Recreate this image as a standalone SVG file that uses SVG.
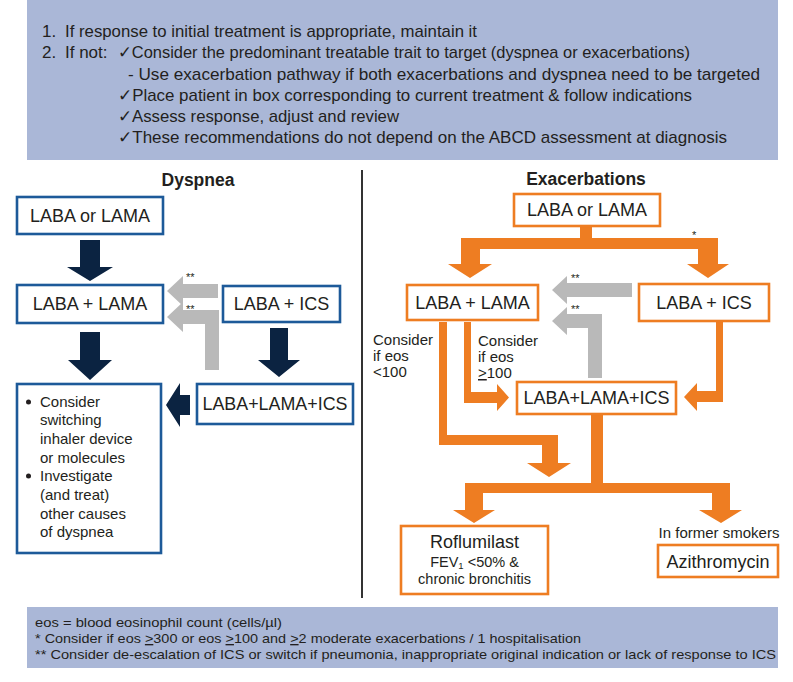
<svg xmlns="http://www.w3.org/2000/svg" width="793" height="682" viewBox="0 0 793 682">
<style>
text{font-family:"Liberation Sans","DejaVu Sans",Arial,sans-serif;fill:#231f20}
.hdr{font-size:17px}
.ttl{font-size:17.5px;font-weight:bold;text-anchor:middle}
.nt{font-size:18px;text-anchor:middle}
.sm{font-size:15px}
.xs{font-size:14.5px;text-anchor:middle}
.ft{font-size:13.5px}
.st{font-size:11px}
.bx{fill:#ffffff;stroke-width:2.6}
.blue{stroke:#1d5a99}
.orng{stroke:#ee7d22}
.panel{fill:#aab7d7}
.dk{fill:#0b2341}
.gr{fill:#b9b9b9}
.or{fill:#ee7d22}
</style>
<rect class="panel" x="27" y="0" width="751" height="160"/>
<g id="instructions">
<text class="hdr" x="42" y="37">1.</text>
<text class="hdr" x="65" y="37" textLength="412" lengthAdjust="spacingAndGlyphs">If response to initial treatment is appropriate, maintain it</text>
<text class="hdr" x="42" y="58">2.</text>
<text class="hdr" x="65" y="58">If not:</text>
<text class="hdr" x="118" y="58" textLength="572" lengthAdjust="spacingAndGlyphs">✓Consider the predominant treatable trait to target (dyspnea or exacerbations)</text>
<text class="hdr" x="128" y="80" textLength="632" lengthAdjust="spacingAndGlyphs">- Use exacerbation pathway if both exacerbations and dyspnea need to be targeted</text>
<text class="hdr" x="118" y="101" textLength="574" lengthAdjust="spacingAndGlyphs">✓Place patient in box corresponding to current treatment &amp; follow indications</text>
<text class="hdr" x="118" y="122" textLength="281" lengthAdjust="spacingAndGlyphs">✓Assess response, adjust and review</text>
<text class="hdr" x="118" y="143" textLength="609" lengthAdjust="spacingAndGlyphs">✓These recommendations do not depend on the ABCD assessment at diagnosis</text>
</g>
<line x1="362" y1="170" x2="362" y2="598" stroke="#333333" stroke-width="2"/>
<text class="ttl" x="198" y="186">Dyspnea</text>
<text class="ttl" x="586" y="185">Exacerbations</text>
<g id="connectors">
<path class="dk" d="M80,240 H100 V267 H113 L90,281 L67,267 H80 Z"/>
<path class="dk" d="M80,332 H100 V360 H112 L90,380 L68,360 H80 Z"/>
<path class="dk" d="M270,328 H288 V360 H300 L279,377 L258,360 H270 Z"/>
<path class="dk" d="M190,395 V415 H180 V427 L166,405 L180,383 V395 Z"/>
<path class="gr" d="M218,284 H183 V276 L167,291 L183,306 V298 H218 Z"/>
<path class="gr" d="M219,370 H205 V324 H183 V332 L167,317 L183,302 V310 H219 Z"/>
<text class="st" x="186" y="281">**</text>
<text class="st" x="186" y="313">**</text>
<path class="or" d="M580,226 H592 V238 H718 V264 H729 L708,278 L687,264 H698 V249 H480 V264 H492 L470,278 L448,264 H461 V238 H580 Z"/>
<text class="st" x="692" y="239">*</text>
<path class="gr" d="M632,283 H567 V276 L552,290 L567,304 V297 H632 Z"/>
<path class="gr" d="M602,378 H588 V328 H567 V335 L552,321 L567,307 V314 H602 Z"/>
<text class="st" x="571" y="282">**</text>
<text class="st" x="571" y="313">**</text>
<path class="or" d="M439,322 H447 V435 H558 V463 H571 L549,477 L527,463 H542 V445 H439 Z"/>
<path class="or" d="M464,322 H471 V392 H497 V384 L509,397.5 L497,411 V403 H464 Z"/>
<path class="or" d="M716,322 H723 V402 H697 V411 L684,397 L697,383 V391 H716 Z"/>
<path class="or" d="M591,415 H603 V483 H730 V510 H742 L721,523 L699,510 H712 V493 H483 V510 H495 L474,523 L453,510 H465 V483 H591 Z"/>
</g>
<g id="d-laba-or-lama">
<rect class="bx blue" x="17" y="197" width="146" height="37"/>
<text class="nt" x="90" y="222">LABA or LAMA</text>
</g>
<g id="d-laba-lama">
<rect class="bx blue" x="17" y="285" width="146" height="38"/>
<text class="nt" x="90" y="310">LABA + LAMA</text>
</g>
<g id="d-laba-ics">
<rect class="bx blue" x="223" y="286" width="117" height="36"/>
<text class="nt" x="281.5" y="310">LABA + ICS</text>
</g>
<g id="d-triple">
<rect class="bx blue" x="197" y="384" width="156" height="40"/>
<text class="nt" x="275" y="410" textLength="145" lengthAdjust="spacingAndGlyphs">LABA+LAMA+ICS</text>
</g>
<g id="d-consider">
<rect class="bx blue" x="17" y="384" width="144" height="169"/>
<circle cx="28.5" cy="402" r="2.5" fill="#231f20"/>
<circle cx="28.5" cy="476" r="2.5" fill="#231f20"/>
<text class="sm" x="40" y="407">Consider</text>
<text class="sm" x="40" y="425">switching</text>
<text class="sm" x="40" y="444">inhaler device</text>
<text class="sm" x="40" y="463">or molecules</text>
<text class="sm" x="40" y="481">Investigate</text>
<text class="sm" x="40" y="500">(and treat)</text>
<text class="sm" x="40" y="519">other causes</text>
<text class="sm" x="40" y="537">of dyspnea</text>
</g>
<g id="e-laba-or-lama">
<rect class="bx orng" x="514" y="194" width="146" height="32"/>
<text class="nt" x="587" y="216">LABA or LAMA</text>
</g>
<g id="e-laba-lama">
<rect class="bx orng" x="407" y="285" width="131" height="35"/>
<text class="nt" x="472.5" y="309">LABA + LAMA</text>
</g>
<g id="e-laba-ics">
<rect class="bx orng" x="639" y="284" width="130" height="37"/>
<text class="nt" x="704" y="309">LABA + ICS</text>
</g>
<g id="e-labels">
<text class="sm" x="373" y="345">Consider</text>
<text class="sm" x="373" y="361">if eos</text>
<text class="sm" x="373" y="377">&lt;100</text>
<text class="sm" x="478" y="346">Consider</text>
<text class="sm" x="478" y="362">if eos</text>
<text class="sm" x="478" y="378"><tspan text-decoration="underline">&gt;</tspan>100</text>
</g>
<g id="e-triple">
<rect class="bx orng" x="517" y="382" width="159" height="32"/>
<text class="nt" x="596.5" y="404">LABA+LAMA+ICS</text>
</g>
<g id="e-roflumilast">
<rect class="bx orng" x="401" y="526" width="147" height="68"/>
<text class="nt" x="474.5" y="548">Roflumilast</text>
<text class="xs" x="474.5" y="567">FEV<tspan font-size="9.5" dy="2">1</tspan><tspan dy="-2"> &lt;50% &amp;</tspan></text>
<text class="xs" x="474.5" y="584">chronic bronchitis</text>
</g>
<g id="e-azithromycin">
<text class="sm" x="719" y="538" text-anchor="middle">In former smokers</text>
<rect class="bx orng" x="658" y="545" width="120" height="32"/>
<text class="nt" x="718" y="568">Azithromycin</text>
</g>
<rect class="panel" x="27" y="607" width="751" height="61"/>
<g id="footnotes">
<text class="ft" x="35" y="627" textLength="247" lengthAdjust="spacingAndGlyphs">eos = blood eosinophil count (cells/µl)</text>
<text class="ft" x="35" y="643" textLength="546" lengthAdjust="spacingAndGlyphs">* Consider if eos <tspan text-decoration="underline">&gt;</tspan>300 or eos <tspan text-decoration="underline">&gt;</tspan>100 and <tspan text-decoration="underline">&gt;</tspan>2 moderate exacerbations / 1 hospitalisation</text>
<text class="ft" x="35" y="659" textLength="741" lengthAdjust="spacingAndGlyphs">** Consider de-escalation of ICS or switch if pneumonia, inappropriate original indication or lack of response to ICS</text>
</g>
</svg>
